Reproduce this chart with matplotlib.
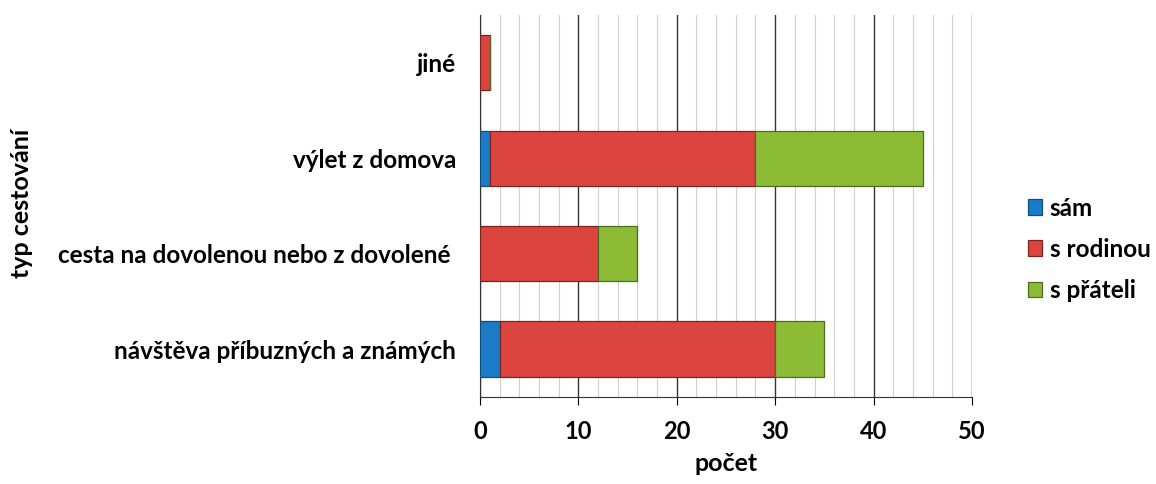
import matplotlib.pyplot as plt
import numpy as np
from matplotlib.ticker import MultipleLocator

plt.rcParams['font.family'] = ['Lato', 'DejaVu Sans']
plt.rcParams['font.weight'] = 'bold'

categories = ["návštěva příbuzných a známých",
              "cesta na dovolenou nebo z dovolené ",
              "výlet z domova",
              "jiné"]
sam = [2, 0, 1, 0]
s_rodinou = [28, 12, 27, 1]
s_prateli = [5, 4, 17, 0]

series = [("sám", sam, "#1b7bc6", "#10507f"),
          ("s rodinou", s_rodinou, "#dc4440", "#7a2422"),
          ("s přáteli", s_prateli, "#8cbc36", "#4f6b1e")]

fig = plt.figure(figsize=(11.56, 4.84), dpi=100)
ax = fig.add_axes([0.4152, 0.180, 0.4256, 0.789])

y = np.arange(len(categories))
left = np.zeros(len(categories))
handles = []
for name, vals, face, edge in series:
    vals = np.array(vals, dtype=float)
    h = ax.barh(y, vals, left=left, height=0.58, color=face,
                edgecolor=edge, linewidth=0.9, label=name, zorder=3)
    handles.append(h)
    left += vals

ax.set_xlim(0, 50)
ax.set_ylim(-0.5, 3.5)
ax.xaxis.set_major_locator(MultipleLocator(10))
ax.xaxis.set_minor_locator(MultipleLocator(2))
ax.grid(which="minor", axis="x", color="#d0d0d0", linewidth=0.8, zorder=0)
ax.grid(which="major", axis="x", color="#333333", linewidth=1.0, zorder=1)
ax.tick_params(axis="x", which="minor", length=0)
ax.tick_params(axis="x", which="major", length=6, labelsize=17, pad=11)
ax.tick_params(axis="y", length=0, labelsize=17.5, pad=17)
ax.set_yticks(y)
ax.set_yticklabels(categories)
for s in ("top", "right"):
    ax.spines[s].set_visible(False)
ax.spines["left"].set_color("#333333")
ax.spines["bottom"].set_color("#333333")

ax.set_xlabel("počet", fontsize=18, fontweight="bold", labelpad=6)
fig.text(22 / 1156, 0.58, "typ cestování", rotation=90, ha="center",
         va="center", fontsize=18, fontweight="bold")

fig.legend(handles=handles, loc="center left", bbox_to_anchor=(0.889, 0.485),
           frameon=False, fontsize=17.5, handlelength=0.6, handleheight=0.6,
           handletextpad=0.3, labelspacing=0.75, borderaxespad=0,
           borderpad=0)

fig.savefig("out.png", dpi=100)
